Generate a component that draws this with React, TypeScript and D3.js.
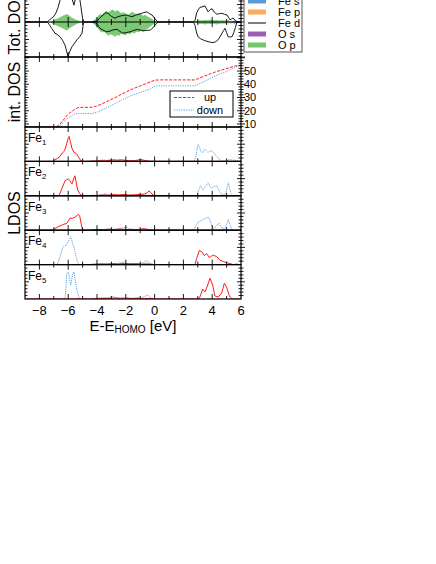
import React from 'react';
import * as d3 from 'd3';

type P = [number, number];

const xTickValues = [-8, -6, -4, -2, 0, 2, 4, 6];
const intTickValues = [10, 20, 30, 40, 50];
const legendLabels = ['Fe s', 'Fe p', 'Fe d', 'O s', 'O p'];
const legendColors = ['#5b9bd5', '#ffab5e', '#000000', '#9b62b4', '#74c66e'];
const intLegendLabels = ['up', 'down'];
const ldosLabels = ['1', '2', '3', '4', '5'];

// Tot. DOS (up positive, down negative)
const totFeDUp: P[] = [[-9,0],[-7.45,0],[-7.3,0.6],[-7.15,1.1],[-7.0,1.6],[-6.85,2.6],[-6.7,4.2],[-6.55,6.5],[-6.4,9],[-6.2,12],[-6.0,13],[-5.85,10],[-5.72,6.5],[-5.6,4.8],[-5.48,7],[-5.38,9],[-5.25,8],[-5.12,4.5],[-5.0,1],[-4.9,0],[-4.15,0],[-4.0,0.3],[-3.8,1.2],[-3.58,2.0],[-3.4,2.6],[-3.24,2.5],[-3.0,1.6],[-2.75,1.1],[-2.55,1.5],[-2.4,1.7],[-2.15,1.9],[-1.92,2.0],[-1.75,1.7],[-1.57,1.5],[-1.3,2.0],[-1.01,2.3],[-0.75,2.7],[-0.53,2.9],[-0.35,2.4],[-0.18,2.0],[0.03,0.9],[0.24,0],[2.7,0],[2.81,0.5],[2.92,2.6],[3.01,3.4],[3.15,4.2],[3.29,4.3],[3.5,4.6],[3.6,3.8],[3.71,2.9],[3.85,3.5],[3.99,3.8],[4.15,2.8],[4.33,2.2],[4.5,2.4],[4.68,2.5],[4.85,2.2],[5.03,2.0],[5.15,1.2],[5.24,0.6],[5.35,0.9],[5.44,1.1],[5.6,0.5],[5.72,0],[6,0]];
const totFeDDown: P[] = [[-9,0],[-7.45,0],[-7.3,-0.8],[-7.15,-1.8],[-7.06,-2.3],[-6.92,-3.2],[-6.75,-3.6],[-6.57,-4.2],[-6.4,-5.2],[-6.22,-6.6],[-6.1,-8.5],[-6.01,-9.9],[-5.9,-8.5],[-5.74,-7.1],[-5.55,-6],[-5.39,-5.1],[-5.2,-4.2],[-5.04,-3.2],[-4.97,-1],[-4.9,0],[-4.15,0],[-4.0,-0.6],[-3.8,-1.8],[-3.58,-2.3],[-3.35,-2.8],[-3.1,-2.6],[-2.85,-2.2],[-2.6,-2.1],[-2.4,-2.7],[-2.2,-3.2],[-1.95,-3.0],[-1.7,-2.8],[-1.45,-2.4],[-1.2,-2.1],[-1.0,-2.3],[-0.8,-2.5],[-0.55,-2.4],[-0.3,-2.3],[-0.1,-1.6],[0.03,-0.9],[0.24,0],[2.7,0],[2.81,-1],[2.9,-2.8],[3.01,-4.2],[3.2,-4.8],[3.36,-5.1],[3.55,-5.4],[3.71,-5.6],[3.9,-5.8],[4.06,-5.9],[4.25,-5.6],[4.4,-5.1],[4.55,-4.2],[4.68,-3.2],[4.8,-2.4],[4.89,-1.8],[5.0,-3],[5.1,-4.2],[5.25,-4.3],[5.375,-4.2],[5.5,-3],[5.62,-1.5],[5.72,0],[6,0]];
const totOpUp: P[] = [[-9,0],[-7.3,0],[-7.1,0.3],[-6.9,0.7],[-6.7,1.1],[-6.5,1.5],[-6.3,1.9],[-6.1,2.3],[-5.95,1.9],[-5.8,1.4],[-5.6,0.9],[-5.4,0.6],[-5.2,0.3],[-5.0,0.1],[-4.8,0],[-4.4,0],[-4.25,0.3],[-4.1,0.9],[-3.95,1.6],[-3.8,2.3],[-3.65,2.1],[-3.5,2.7],[-3.35,3.2],[-3.2,2.8],[-3.05,3.3],[-2.9,3.6],[-2.75,3.0],[-2.6,3.4],[-2.45,2.9],[-2.3,2.5],[-2.15,2.8],[-2.0,2.4],[-1.85,2.0],[-1.7,2.5],[-1.55,2.9],[-1.4,2.5],[-1.25,2.2],[-1.1,2.6],[-0.95,2.2],[-0.8,1.8],[-0.65,2.1],[-0.5,1.6],[-0.35,1.3],[-0.2,0.9],[-0.05,0.5],[0.1,0.2],[0.3,0],[2.7,0],[2.9,0.3],[3.1,0.5],[3.3,0.4],[3.5,0.6],[3.7,0.5],[3.9,0.7],[4.1,0.5],[4.3,0.6],[4.5,0.4],[4.7,0.5],[4.9,0.4],[5.1,0.5],[5.3,0.3],[5.5,0.3],[5.7,0.2],[5.9,0],[6,0]];
const totOpDown: P[] = [[-9,0],[-7.3,0],[-7.1,-0.4],[-6.9,-0.8],[-6.7,-1.2],[-6.5,-1.6],[-6.3,-2.0],[-6.1,-2.4],[-5.95,-2.0],[-5.8,-1.5],[-5.6,-1.0],[-5.4,-0.6],[-5.2,-0.3],[-5.0,-0.1],[-4.8,0],[-4.4,0],[-4.25,-0.4],[-4.1,-1.0],[-3.95,-1.8],[-3.8,-2.6],[-3.65,-3.0],[-3.5,-2.8],[-3.35,-3.4],[-3.2,-3.9],[-3.05,-3.5],[-2.9,-3.8],[-2.75,-4.2],[-2.6,-3.7],[-2.45,-3.9],[-2.3,-3.3],[-2.15,-3.6],[-2.0,-3.8],[-1.85,-3.2],[-1.7,-3.5],[-1.55,-3.0],[-1.4,-3.3],[-1.25,-2.7],[-1.1,-3.0],[-0.95,-2.5],[-0.8,-2.8],[-0.65,-2.2],[-0.5,-2.0],[-0.35,-1.5],[-0.2,-1.0],[-0.05,-0.6],[0.1,-0.2],[0.3,0],[2.7,0],[2.9,-0.3],[3.1,-0.6],[3.3,-0.5],[3.5,-0.7],[3.7,-0.5],[3.9,-0.6],[4.1,-0.5],[4.3,-0.7],[4.5,-0.5],[4.7,-0.4],[4.9,-0.5],[5.1,-0.3],[5.3,-0.4],[5.5,-0.2],[5.7,-0.1],[5.9,0],[6,0]];
const totFeSUp: P[] = [[-9,0],[-4.45,0],[-4.3,0.3],[-4.15,0.6],[-4.0,0.4],[-3.85,0.1],[-3.7,0],[5.3,0],[5.45,0.3],[5.6,0.5],[5.75,0.3],[5.9,0],[6,0]];
const totFeSDown: P[] = [[-9,0],[-4.45,0],[-4.3,-0.3],[-4.15,-0.6],[-4.0,-0.4],[-3.85,-0.1],[-3.7,0],[5.3,0],[5.45,-0.3],[5.6,-0.5],[5.75,-0.3],[5.9,0],[6,0]];
const totFePUp: P[] = [[-9,0],[-3.3,0],[-3.15,0.3],[-3.0,0.15],[-2.0,0],[-1.2,0],[-1.0,0.25],[-0.85,0],[5.0,0],[5.15,0.35],[5.3,0.15],[5.4,0],[6,0]];
const totFePDown: P[] = [[-9,0],[-3.3,0],[-3.15,-0.3],[-3.0,-0.15],[-2.0,0],[-1.2,0],[-1.0,-0.25],[-0.85,0],[5.0,0],[5.15,-0.35],[5.3,-0.15],[5.4,0],[6,0]];

// int. DOS
const intUp: P[] = [[-9,7.7],[-6.9,7.7],[-6.78,8.2],[-6.57,9.8],[-6.4,12.2],[-6.22,14.5],[-6.05,16.8],[-5.875,18.5],[-5.7,19.8],[-5.53,21.2],[-5.35,22.2],[-5.18,22.5],[-4.35,22.6],[-4.1,23.3],[-3.8,24.5],[-3.45,26.2],[-3.1,28.1],[-2.75,29.8],[-2.4,31.9],[-2.05,33.8],[-1.7,35.7],[-1.35,37.3],[-1.0,38.7],[-0.65,40.3],[-0.3,41.8],[0.03,43.1],[0.3,43.3],[2.8,43.3],[3.1,44.6],[3.5,46.3],[3.85,47.8],[4.2,49.2],[4.55,50.4],[4.9,51.5],[5.25,52.7],[5.6,53.8],[6.0,54.5]];
const intDown: P[] = [[-9,7.7],[-6.85,7.7],[-6.7,8.0],[-6.5,9.4],[-6.3,11.8],[-6.1,13.8],[-5.9,15.2],[-5.7,16.6],[-5.53,17.6],[-5.3,17.9],[-4.35,17.9],[-4.05,18.7],[-3.8,19.8],[-3.45,21.6],[-3.1,23.6],[-2.75,25.4],[-2.4,27.4],[-2.05,29.3],[-1.7,31.1],[-1.35,32.5],[-1.0,33.8],[-0.65,35.1],[-0.3,36.5],[0.03,38.5],[0.3,38.8],[2.8,38.8],[3.15,40.6],[3.5,42.5],[3.85,44.3],[4.2,46.2],[4.55,47.7],[4.9,49.2],[5.25,51.2],[5.6,53.0],[6.0,54.5]];

// LDOS (up = red, down = blue)
const fe1Up: P[] = [[-9,0],[-7.1,0],[-6.92,1.5],[-6.75,3],[-6.57,5],[-6.43,8],[-6.3,10],[-6.22,12],[-6.1,18],[-6.0,23],[-5.94,25],[-5.85,20],[-5.74,13],[-5.6,9],[-5.45,8],[-5.39,7],[-5.25,3.5],[-5.11,0.5],[-5.0,0],[-4.6,0],[-4.3,0.5],[-4.0,0.3],[-3.7,0.8],[-3.4,0.5],[-3.1,1.2],[-2.85,1.6],[-2.6,1.2],[-2.3,1.6],[-2.0,1.0],[-1.7,0.6],[-1.4,0.8],[-1.15,1.4],[-0.95,1.8],[-0.75,1.2],[-0.5,0.4],[-0.3,0],[6,0]];
const fe1Down: P[] = [[-9,0],[-4.5,0],[-4.2,0.4],[-3.9,0.8],[-3.6,1.6],[-3.35,1.0],[-3.1,1.4],[-2.8,0.8],[-2.5,1.0],[-2.2,0.5],[-1.8,0.8],[-1.4,0.4],[-1.0,0.6],[-0.5,0.3],[0,0],[2.75,0],[2.88,6],[3.01,17],[3.12,14],[3.22,10],[3.32,8.5],[3.45,12],[3.58,11],[3.7,9],[3.85,10],[3.99,10.5],[4.1,9],[4.25,6],[4.45,3],[4.6,1],[4.75,0],[5.0,0.5],[5.2,2],[5.35,1.5],[5.5,1.2],[5.7,0.8],[5.9,0.2],[6,0]];
const fe2Up: P[] = [[-9,0],[-6.65,0],[-6.5,5],[-6.36,10],[-6.22,15],[-6.1,16],[-6.0,17],[-5.88,15],[-5.74,12],[-5.62,17],[-5.53,20],[-5.45,14],[-5.35,6],[-5.2,2],[-5.05,0],[-4.6,0],[-4.3,0.5],[-4.0,0.3],[-3.6,0.8],[-3.2,0.6],[-2.9,1.2],[-2.5,0.8],[-2.1,1.4],[-1.8,0.7],[-1.4,1.0],[-1.0,1.4],[-0.7,1.8],[-0.5,3],[-0.38,5],[-0.25,3],[-0.1,0.5],[0.1,0],[6,0]];
const fe2Down: P[] = [[-9,0],[-4.2,0],[-3.9,0.6],[-3.6,1.2],[-3.4,2.2],[-3.2,1.0],[-2.9,0.8],[-2.6,1.4],[-2.3,0.6],[-1.9,0.9],[-1.5,0.4],[-1.0,0.6],[-0.5,0.3],[0,0],[2.9,0],[3.0,3],[3.1,7],[3.2,10],[3.36,6],[3.5,9],[3.62,11],[3.71,13],[3.85,9],[3.99,8],[4.1,9],[4.25,10],[4.33,10],[4.45,6],[4.55,3],[4.7,1.5],[4.85,1],[4.95,3],[5.05,9],[5.12,13],[5.22,7],[5.3,2],[5.4,0],[6,0]];
const fe3Up: P[] = [[-9,0],[-7.05,0],[-6.92,1.7],[-6.7,3.5],[-6.45,5],[-6.3,6],[-6.1,6.7],[-6.0,9],[-5.875,12],[-5.7,12],[-5.53,13],[-5.4,14.5],[-5.3,16],[-5.2,14],[-5.12,8],[-5.06,3],[-4.98,0],[-4.6,0],[-4.3,0.4],[-4.0,0.8],[-3.6,0.5],[-3.2,1.0],[-2.8,0.7],[-2.4,1.2],[-2.0,0.6],[-1.6,0.9],[-1.2,0.5],[-0.9,1.2],[-0.7,1.6],[-0.5,0.8],[-0.3,0.2],[0,0],[6,0]];
const fe3Down: P[] = [[-9,0],[-4.3,0],[-4.0,0.5],[-3.7,0.9],[-3.4,0.6],[-3.1,1.2],[-2.8,0.8],[-2.5,1.5],[-2.2,2.2],[-1.95,3],[-1.8,1.2],[-1.5,0.8],[-1.1,0.5],[-0.7,0.3],[0,0],[2.7,0],[2.81,3],[3.03,8],[3.15,9],[3.27,10],[3.4,11],[3.5,11.7],[3.62,12.5],[3.73,13],[3.82,11],[3.9,8],[3.99,4],[4.08,1],[4.2,3],[4.31,5],[4.49,7],[4.58,4],[4.66,2],[4.9,2],[5.0,6],[5.12,10.7],[5.22,6],[5.35,1],[5.45,0],[6,0]];
const fe4Up: P[] = [[-9,0],[-4.5,0],[-4.1,0.4],[-3.7,0.8],[-3.3,0.5],[-2.9,1.0],[-2.5,0.7],[-2.1,1.2],[-1.7,0.8],[-1.3,1.0],[-0.9,0.5],[-0.5,0.8],[-0.2,0.3],[0,0],[2.8,0],[2.92,6],[3.1,14],[3.27,13],[3.45,9],[3.62,11],[3.8,7],[3.95,8.5],[4.08,9.4],[4.31,8],[4.54,4.4],[4.77,3],[5.0,2],[5.24,1],[5.46,0],[5.7,0.5],[5.9,0],[6,0]];
const fe4Down: P[] = [[-9,0],[-6.75,0],[-6.57,8],[-6.45,14],[-6.34,18],[-6.15,19],[-5.99,23],[-5.9,26],[-5.83,28],[-5.76,25],[-5.69,21],[-5.6,17],[-5.53,13],[-5.45,8],[-5.37,3],[-5.25,0],[-4.6,0],[-4.2,0.5],[-3.8,0.3],[-3.4,0.8],[-3.0,0.5],[-2.6,1.0],[-2.3,2.0],[-2.2,3],[-2.05,1.5],[-1.7,0.6],[-1.3,0.4],[-1.0,0.8],[-0.75,2],[-0.53,4],[-0.4,2.5],[-0.2,0.5],[0,0],[6,0]];
const fe5Up: P[] = [[-9,0],[-4.4,0],[-4.0,0.4],[-3.6,0.7],[-3.2,0.5],[-2.8,1.0],[-2.4,0.6],[-2.0,0.9],[-1.6,0.5],[-1.2,0.8],[-0.8,0.4],[-0.4,0.6],[0,0],[3.05,0],[3.15,2],[3.34,10],[3.5,7],[3.66,13],[3.85,20.7],[4.03,14],[4.19,3],[4.42,2],[4.66,6],[4.84,15.7],[5.0,12],[5.19,3],[5.35,0.5],[5.46,0],[6,0]];
const fe5Down: P[] = [[-9,0],[-6.35,0],[-6.22,1],[-6.15,12],[-6.1,25],[-5.99,27],[-5.9,20],[-5.83,14],[-5.75,20],[-5.69,25],[-5.6,27],[-5.53,20],[-5.46,14],[-5.38,8],[-5.3,4],[-5.23,0],[-4.6,0],[-4.2,0.4],[-3.8,0.8],[-3.4,1.2],[-3.1,1.6],[-2.9,2.2],[-2.7,1.4],[-2.3,0.8],[-1.9,1.0],[-1.5,0.6],[-1.1,0.9],[-0.8,2.0],[-0.6,3.2],[-0.46,4],[-0.35,2.5],[-0.2,0.8],[0,0],[6,0]];

const ldosUp = [fe1Up, fe2Up, fe3Up, fe4Up, fe5Up];
const ldosDown = [fe1Down, fe2Down, fe3Down, fe4Down, fe5Down];

const FONT = 'Liberation Sans, Arial, Helvetica, sans-serif';
const RED = '#ff1a1a';
const BLUE = '#5a9fe0';

export default function App() {
  const W = 436, H = 564;
  const X0 = 25, X1 = 241;
  const TOT_TOP = -13, TOT_BOT = 57, INT_BOT = 127, LD_BOT = 299;
  const LD_H = (LD_BOT - INT_BOT) / 5;
  const LDOS_MAX = 34.4;

  const x = d3.scaleLinear().domain([-9, 6]).range([X0, X1]);
  const yTot = d3.scaleLinear().domain([-10, 10]).range([TOT_BOT, TOT_TOP]);
  const yInt = d3.scaleLinear().domain([7.7, 60.6]).range([INT_BOT, TOT_BOT]);
  const yLd = (i: number) => d3.scaleLinear().domain([0, LDOS_MAX]).range([INT_BOT + (i + 1) * LD_H, INT_BOT + i * LD_H]);

  const totLine = d3.line<P>().x(d => x(d[0])).y(d => yTot(d[1]));
  const totArea = d3.area<P>().x(d => x(d[0])).y0(yTot(0)).y1(d => yTot(d[1]));
  const intLine = d3.line<P>().x(d => x(d[0])).y(d => yInt(d[1]));

  const xMinor = d3.range(-8, 6, 1);
  const boundaries = [TOT_BOT, INT_BOT, ...d3.range(1, 5).map(i => INT_BOT + i * LD_H)];

  const ticks: JSX.Element[] = [];
  let k = 0;
  // x ticks at panel boundaries (inward both sides)
  boundaries.forEach(by => {
    xMinor.forEach(v => {
      const len = v % 2 === 0 ? 5 : 3;
      ticks.push(<line key={k++} x1={x(v)} x2={x(v)} y1={by - len} y2={by + len} />);
    });
  });
  xMinor.forEach(v => {
    const len = v % 2 === 0 ? 5 : 3;
    ticks.push(<line key={k++} x1={x(v)} x2={x(v)} y1={LD_BOT - len} y2={LD_BOT} />);
  });
  // zero line ticks tot
  xMinor.forEach(v => {
    const len = v % 2 === 0 ? 5 : 3;
    ticks.push(<line key={k++} x1={x(v)} x2={x(v)} y1={yTot(0) - len} y2={yTot(0) + len} />);
  });
  // y ticks
  const yTicksAll: { y: number; major: boolean }[] = [];
  d3.range(-10, 10.01, 1).forEach(v => yTicksAll.push({ y: yTot(v), major: v % 5 === 0 }));
  d3.range(8, 61, 2).forEach(v => yTicksAll.push({ y: yInt(v), major: v % 10 === 0 }));
  for (let i = 0; i < 5; i++) {
    const s = yLd(i);
    d3.range(1, 10).forEach(j => yTicksAll.push({ y: s((j * LDOS_MAX) / 10), major: j === 5 }));
  }
  yTicksAll.forEach(t => {
    const len = t.major ? 4 : 2.5;
    ticks.push(<line key={k++} x1={X0} x2={X0 + len} y1={t.y} y2={t.y} />);
    ticks.push(<line key={k++} x1={X1 - len} x2={X1 + len} y1={t.y} y2={t.y} />);
  });

  const legX = 244, legY = -6, legW = 58, legStep = 11;

  return (
    <svg width={W} height={H} style={{ position: 'absolute', left: 0, top: 0, background: '#fff' }} fontFamily={FONT}>
      <defs>
        <clipPath id="cTot"><rect x={X0} y={TOT_TOP} width={X1 - X0} height={TOT_BOT - TOT_TOP} /></clipPath>
        <clipPath id="cInt"><rect x={X0} y={TOT_BOT} width={X1 - X0} height={INT_BOT - TOT_BOT} /></clipPath>
        {ldosUp.map((_, i) => (
          <clipPath id={`cL${i}`} key={i}><rect x={X0} y={INT_BOT + i * LD_H} width={X1 - X0} height={LD_H} /></clipPath>
        ))}
      </defs>

      {/* Tot DOS */}
      <g clipPath="url(#cTot)">
        <path d={totArea(totOpUp) || ''} fill="#74c66e" opacity={0.95} />
        <path d={totArea(totOpDown) || ''} fill="#74c66e" opacity={0.95} />
        <path d={totArea(totFeSUp) || ''} fill="#5b9bd5" />
        <path d={totArea(totFeSDown) || ''} fill="#5b9bd5" />
        <path d={totArea(totFePUp) || ''} fill="#ffab5e" />
        <path d={totArea(totFePDown) || ''} fill="#ffab5e" />
        <path d={totLine(totFeDUp) || ''} fill="none" stroke="#000" strokeWidth={0.9} />
        <path d={totLine(totFeDDown) || ''} fill="none" stroke="#000" strokeWidth={0.9} />
      </g>
      <line x1={X0} x2={X1} y1={yTot(0)} y2={yTot(0)} stroke="#000" strokeWidth={1} />

      {/* int DOS */}
      <g clipPath="url(#cInt)">
        <path d={intLine(intDown) || ''} fill="none" stroke={BLUE} strokeWidth={1} strokeDasharray="1.2,1.2" />
        <path d={intLine(intUp) || ''} fill="none" stroke={RED} strokeWidth={1} strokeDasharray="3,1.5" />
      </g>

      {/* LDOS */}
      {ldosUp.map((up, i) => {
        const s = yLd(i);
        const ln = d3.line<P>().x(d => x(d[0])).y(d => s(d[1]));
        return (
          <g key={i} clipPath={`url(#cL${i})`}>
            <path d={ln(ldosDown[i]) || ''} fill="none" stroke={BLUE} strokeWidth={1} strokeDasharray="1.2,1" />
            <path d={ln(up) || ''} fill="none" stroke={RED} strokeWidth={1} />
          </g>
        );
      })}

      {/* frames */}
      <g fill="none" stroke="#000" strokeWidth={1.2}>
        <rect x={X0} y={TOT_TOP} width={X1 - X0} height={TOT_BOT - TOT_TOP} />
        <rect x={X0} y={TOT_BOT} width={X1 - X0} height={INT_BOT - TOT_BOT} />
        {ldosUp.map((_, i) => (
          <rect key={i} x={X0} y={INT_BOT + i * LD_H} width={X1 - X0} height={LD_H} />
        ))}
      </g>
      <g stroke="#000" strokeWidth={0.9}>{ticks}</g>

      {/* int DOS right tick labels */}
      {intTickValues.map(v => (
        <text key={v} x={X1 + 3} y={yInt(v)} dy="0.35em" fontSize={11} fill="#000">{v}</text>
      ))}

      {/* x tick labels */}
      {xTickValues.map(v => (
        <text key={v} x={x(v)} y={315} textAnchor="middle" fontSize={13} fill="#000">{v < 0 ? `\u2212${-v}` : `${v}`}</text>
      ))}
      <text x={(X0 + X1) / 2} y={331} textAnchor="middle" fontSize={15} fill="#000">
        E-E<tspan fontSize={10} dy={2}>HOMO</tspan><tspan dy={-2}> [eV]</tspan>
      </text>

      {/* y labels */}
      <text transform={`translate(20,${(TOT_TOP + TOT_BOT) / 2}) rotate(-90)`} textAnchor="middle" fontSize={16}>Tot. DOS</text>
      <text transform={`translate(20,${(TOT_BOT + INT_BOT) / 2}) rotate(-90)`} textAnchor="middle" fontSize={16}>int. DOS</text>
      <text transform={`translate(20,${(INT_BOT + LD_BOT) / 2}) rotate(-90)`} textAnchor="middle" fontSize={16}>LDOS</text>

      {/* Fe labels */}
      {ldosLabels.map((n, i) => (
        <text key={n} x={28} y={INT_BOT + i * LD_H + 15} fontSize={12}>
          Fe<tspan fontSize={8} dy={3}>{n}</tspan>
        </text>
      ))}

      {/* int DOS legend */}
      <rect x={170} y={91} width={63} height={26} fill="#fff" stroke="#000" strokeWidth={1} />
      <line x1={174} x2={194} y1={97.5} y2={97.5} stroke={RED} strokeWidth={1} strokeDasharray="3,1.5" />
      <line x1={174} x2={194} y1={110} y2={110} stroke={BLUE} strokeWidth={1} strokeDasharray="1.2,1.2" />
      {intLegendLabels.map((t, i) => (
        <text key={t} x={210} y={97.5 + i * 12.5} dy="0.35em" textAnchor="middle" fontSize={11}>{t}</text>
      ))}

      {/* Tot legend */}
      <rect x={legX} y={legY} width={legW} height={58} fill="#fff" stroke="#555" strokeWidth={1} />
      {legendLabels.map((t, i) => {
        const cy = legY + 6 + i * legStep + 1;
        return (
          <g key={t}>
            {t === 'Fe d'
              ? <line x1={legX + 4} x2={legX + 22} y1={cy} y2={cy} stroke="#000" strokeWidth={1} />
              : <rect x={legX + 4} y={cy - 2.5} width={18} height={5} fill={legendColors[i]} />}
            <text x={legX + 34} y={cy} dy="0.35em" fontSize={11}>{t}</text>
          </g>
        );
      })}
    </svg>
  );
}
